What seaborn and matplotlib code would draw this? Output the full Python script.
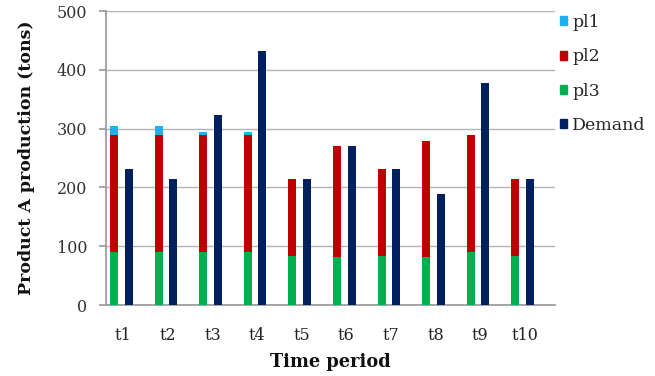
import numpy as np
import pandas as pd
import matplotlib
matplotlib.use("Agg")
import matplotlib.pyplot as plt
import seaborn as sns
from matplotlib.patches import Patch

periods = ["t1", "t2", "t3", "t4", "t5", "t6", "t7", "t8", "t9", "t10"]
pl3 = [90, 90, 90, 90, 83, 81, 83, 81, 90, 83]
pl2 = [199, 199, 199, 199, 132, 189, 148, 198, 199, 132]
pl1 = [15, 15, 6, 6, 0, 0, 0, 0, 0, 0]
demand = [231, 215, 323, 432, 215, 270, 231, 188, 378, 215]

c_pl1 = "#1EB0EA"
c_pl2 = "#C00000"
c_pl3 = "#00B050"
c_dem = "#002060"

sns.set_theme(style="white")
plt.rcParams["font.family"] = ["DejaVu Serif"]

fig = plt.figure(figsize=(6.55, 3.76), dpi=100)
ax = fig.add_axes([106 / 655, 1 - 305 / 376, (555 - 106) / 655, (305 - 11) / 376])

x = np.arange(len(periods))
df = pd.DataFrame({"x": x + 0.12, "demand": demand})
sns.barplot(data=df, x="x", y="demand", color=c_dem, saturation=1, native_scale=True,
            width=0.18, linewidth=0, ax=ax, zorder=3)

off = -0.21
w = 0.18
b3 = np.array(pl3)
b2 = b3 + np.array(pl2)
ax.bar(x + off, pl3, width=w, color=c_pl3, zorder=3, linewidth=0)
ax.bar(x + off, pl2, width=w, bottom=b3, color=c_pl2, zorder=3, linewidth=0)
ax.bar(x + off, pl1, width=w, bottom=b2, color=c_pl1, zorder=3, linewidth=0)

ax.set_xlim(-0.388, -0.388 + 449 / 44.6)
ax.set_xticks(x)
ax.set_xticklabels(periods)
ax.set_ylim(0, 500)
ax.set_yticks([0, 100, 200, 300, 400, 500])
ax.yaxis.grid(True, color="#b4b4b4", linewidth=1)
ax.set_axisbelow(True)
for s in ["top", "right"]:
    ax.spines[s].set_visible(False)
ax.spines["left"].set_color("#9a9a9a")
ax.spines["bottom"].set_color("#9a9a9a")
ax.tick_params(axis="y", which="both", left=True, length=5, color="#9a9a9a",
               labelsize=11.5, pad=8.5, labelcolor="#333333")
ax.tick_params(axis="x", bottom=False, labelsize=11.5, pad=10, labelcolor="#222222")

ax.set_xlabel("Time period", fontsize=12.8, fontweight="bold", labelpad=6, color="#111111")
ax.set_ylabel("Product A production (tons)", fontsize=12.5, fontweight="bold",
              labelpad=16, color="#111111")

handles = [Patch(color=c_pl1), Patch(color=c_pl2), Patch(color=c_pl3), Patch(color=c_dem)]
labels = ["pl1", "pl2", "pl3", "Demand"]
fig.legend(handles, labels, loc="upper left", bbox_to_anchor=(560 / 655, 1 - 14 / 376),
           frameon=False, fontsize=12.5, handlelength=0.4, handleheight=0.4,
           handletextpad=0.3, labelspacing=1.0, borderaxespad=0, borderpad=0)

fig.savefig("out.png", dpi=100)
